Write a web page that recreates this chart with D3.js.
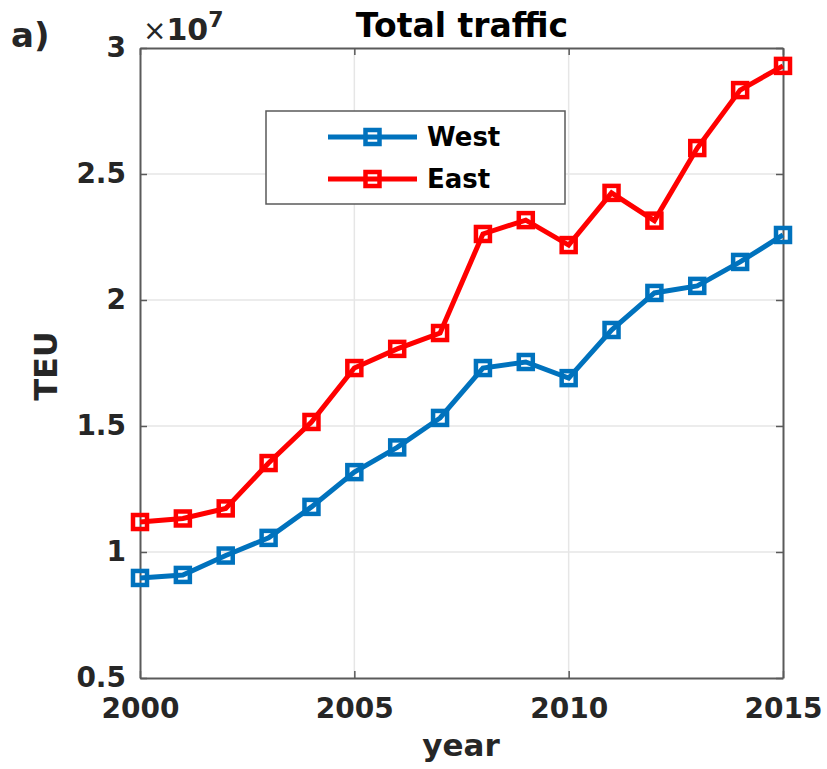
<!DOCTYPE html>
<html>
<head>
<meta charset="utf-8">
<script src="https://cdn.jsdelivr.net/npm/d3@7"></script>
<style>
  body { margin: 0; background: #fff; }
  text { font-family: "DejaVu Sans", sans-serif; font-weight: bold; }
</style>
</head>
<body>
<div id="chart"></div>
<script>
const width = 827;
const height = 769;

// data (TEU, x 1e7)
const years = [2000, 2001, 2002, 2003, 2004, 2005, 2006, 2007, 2008, 2009, 2010, 2011, 2012, 2013, 2014, 2015];
const west = [0.897, 0.909, 0.986, 1.056, 1.179, 1.317, 1.415, 1.532, 1.730, 1.754, 1.690, 1.881, 2.028, 2.056, 2.151, 2.258];
const east = [1.119, 1.133, 1.173, 1.353, 1.516, 1.730, 1.806, 1.869, 2.262, 2.317, 2.218, 2.425, 2.315, 2.603, 2.833, 2.929];
const xTicks = [2000, 2005, 2010, 2015];
const yTicks = [0.5, 1, 1.5, 2, 2.5, 3];

const margin = {left: 140, top: 48, right: 44, bottom: 91};
const x = d3.scaleLinear().domain([2000, 2015]).range([margin.left, width - margin.right]);
const y = d3.scaleLinear().domain([0.5, 3]).range([height - margin.bottom, margin.top]);

var svg = d3.select("#chart").append("svg").attr("width", width).attr("height", height);

// grid
svg.append("g").selectAll("line").data(xTicks.slice(1, -1)).enter().append("line")
  .attr("x1", d => x(d)).attr("x2", d => x(d))
  .attr("y1", y(0.5)).attr("y2", y(3))
  .attr("stroke", "#e6e6e6").attr("stroke-width", 1.5);
svg.append("g").selectAll("line").data(yTicks.slice(1, -1)).enter().append("line")
  .attr("x1", x(2000)).attr("x2", x(2015))
  .attr("y1", d => y(d)).attr("y2", d => y(d))
  .attr("stroke", "#e6e6e6").attr("stroke-width", 1.5);

// axes
const axisColor = "#5a5a5a";
const xAxis = svg.append("g").attr("transform", "translate(0," + y(0.5) + ")")
  .call(d3.axisBottom(x).tickValues(xTicks).tickFormat(d3.format("d")).tickSizeInner(-7).tickSizeOuter(0).tickPadding(20));
const yAxis = svg.append("g").attr("transform", "translate(" + x(2000) + ",0)")
  .call(d3.axisLeft(y).tickValues(yTicks).tickFormat(d => d).tickSizeInner(-7).tickSizeOuter(0).tickPadding(14));
const xTop = svg.append("g").attr("transform", "translate(0," + y(3) + ")")
  .call(d3.axisTop(x).tickValues(xTicks).tickFormat("").tickSizeInner(-7).tickSizeOuter(0));
const yRight = svg.append("g").attr("transform", "translate(" + x(2015) + ",0)")
  .call(d3.axisRight(y).tickValues(yTicks).tickFormat("").tickSizeInner(-7).tickSizeOuter(0));
[xAxis, yAxis, xTop, yRight].forEach(function(g) {
  g.select(".domain").attr("stroke", axisColor).attr("stroke-width", 2);
  g.selectAll(".tick line").attr("stroke", axisColor).attr("stroke-width", 1.5);
  g.selectAll(".tick text").attr("fill", "#262626").attr("font-size", 28)
    .style("font-family", "DejaVu Sans").style("font-weight", "bold");
});
xAxis.selectAll(".tick text").attr("dy", "0.72em");

// series
const series = [
  {name: "West", values: west, color: "#0072BD"},
  {name: "East", values: east, color: "#FF0000"}
];
const line = d3.line().x((d, i) => x(years[i])).y(d => y(d));
const ms = 14;
series.forEach(function(s) {
  svg.append("path").datum(s.values).attr("d", line)
    .attr("fill", "none").attr("stroke", s.color).attr("stroke-width", 5);
  svg.append("g").selectAll("rect").data(s.values).enter().append("rect")
    .attr("x", (d, i) => x(years[i]) - ms / 2)
    .attr("y", d => y(d) - ms / 2)
    .attr("width", ms).attr("height", ms)
    .attr("fill", "none").attr("stroke", s.color).attr("stroke-width", 4.5);
});

// legend
const lg = svg.append("g");
lg.append("rect").attr("x", 266).attr("y", 111).attr("width", 299).attr("height", 93)
  .attr("fill", "#fff").attr("stroke", "#5a5a5a").attr("stroke-width", 1.5);
series.forEach(function(s, i) {
  const ly = 137 + i * 42;
  lg.append("line").attr("x1", 328).attr("x2", 417).attr("y1", ly).attr("y2", ly)
    .attr("stroke", s.color).attr("stroke-width", 5);
  lg.append("rect").attr("x", 372.5 - ms / 2).attr("y", ly - ms / 2).attr("width", ms).attr("height", ms)
    .attr("fill", "none").attr("stroke", s.color).attr("stroke-width", 4.5);
  lg.append("text").attr("x", 427).attr("y", ly).attr("dy", "0.36em")
    .attr("font-size", 26).attr("fill", "#000").text(s.name);
});

// titles
svg.append("text").attr("x", 462).attr("y", 37).attr("text-anchor", "middle")
  .attr("font-size", 33).attr("fill", "#000").text("Total traffic");
svg.append("text").attr("x", 461).attr("y", 756).attr("text-anchor", "middle")
  .attr("font-size", 31).attr("fill", "#262626").text("year");
svg.append("text").attr("transform", "translate(57,366) rotate(-90)").attr("text-anchor", "middle")
  .attr("font-size", 32).attr("fill", "#262626").text("TEU");
svg.append("text").attr("x", 11).attr("y", 47).attr("font-size", 34).attr("fill", "#262626").text("a)");

// exponent label
const ex = svg.append("text").attr("x", 143).attr("y", 40).attr("fill", "#262626");
ex.append("tspan").attr("font-size", 28).style("font-weight", "normal").text("\u00d7");
ex.append("tspan").attr("font-size", 30).text("10");
ex.append("tspan").attr("font-size", 22).attr("dy", -13).text("7");
</script>
</body>
</html>
